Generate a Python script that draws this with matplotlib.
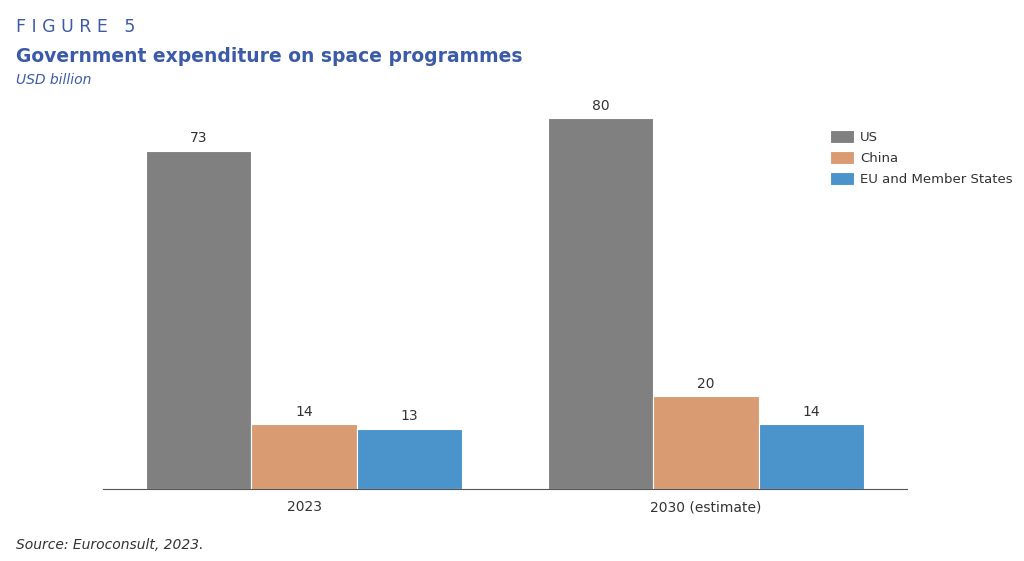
import matplotlib
matplotlib.use("Agg")
import matplotlib.pyplot as plt
import numpy as np

categories = ["2023", "2030 (estimate)"]
series = ["US", "China", "EU and Member States"]
us = [73, 80]
china = [14, 20]
eu = [13, 14]
colors = ["#808080", "#D99C72", "#4A94CB"]

W, H = 1024, 561
fig = plt.figure(figsize=(W/100, H/100), dpi=100)
ax = fig.add_axes([103/W, 1-489/H, 804/W, 389/H])
x = np.arange(len(categories))
w = 0.262
for i, (vals, c, name) in enumerate(zip([us, china, eu], colors, series)):
    bars = ax.bar(x + (i-1)*w, vals, w, color=c, label=name, edgecolor="white", linewidth=0.8)
    for b, v in zip(bars, vals):
        ax.text(b.get_x()+b.get_width()/2, v+1.2, str(v), ha="center", va="bottom",
                fontsize=10, color="#333333")
ax.set_xlim(-0.5, 1.5)
ax.set_ylim(0, 83.9)
ax.set_yticks([])
ax.set_xticks(x)
ax.set_xticklabels(categories, fontsize=10, color="#333333")
ax.tick_params(axis="x", length=0, pad=8)
for s in ["top", "right", "left"]:
    ax.spines[s].set_visible(False)
ax.spines["bottom"].set_color("#555555")
leg = fig.legend(loc="upper left", bbox_to_anchor=(818/W, 1-118/H), frameon=False,
                 fontsize=9.5, handlelength=1.8, handleheight=1.1, labelspacing=0.55, handletextpad=0.5)
for t in leg.get_texts():
    t.set_color("#333333")

fig.text(16/W, 1-27/H, "F I G U R E   5", fontsize=12.5, color="#3B5BA9", va="center")
fig.text(16/W, 1-56/H, "Government expenditure on space programmes", fontsize=13.5, fontweight="bold",
         color="#3B5BA9", va="center")
fig.text(16/W, 1-80/H, "USD billion", fontsize=10, style="italic", color="#3B5BA9", va="center")
fig.text(16/W, 1-545/H, "Source: Euroconsult, 2023.", fontsize=10, style="italic", color="#333333", va="center")
fig.savefig("out.png", dpi=100)
